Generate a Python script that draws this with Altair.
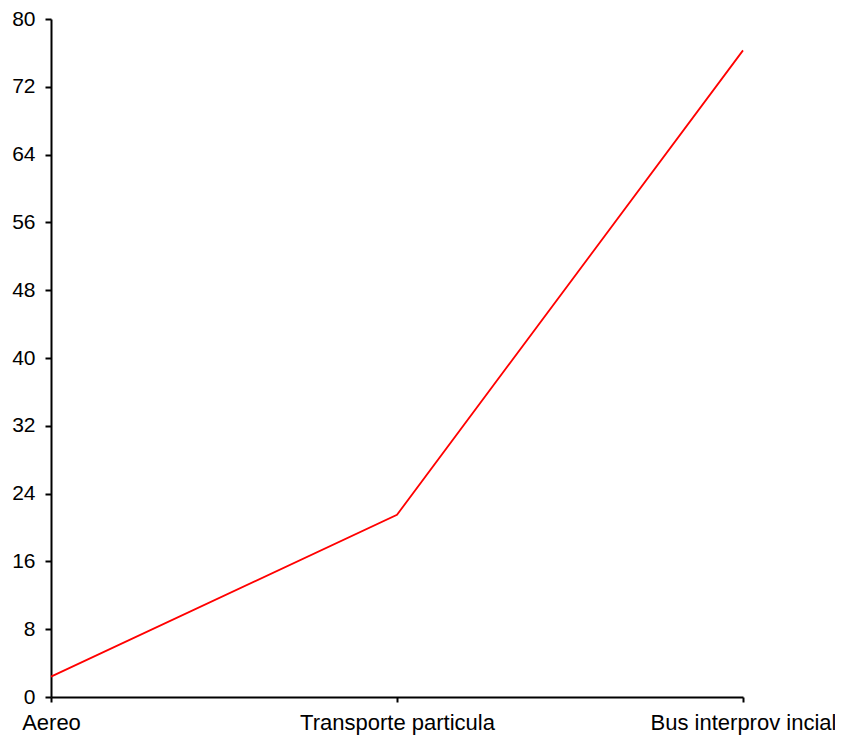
import altair as alt
import pandas as pd

categories = ["Aereo", "Transporte particula", "Bus interprov incial"]
values = [2.4, 21.5, 76.3]

df = pd.DataFrame({"cat": categories, "val": values, "order": [0, 1, 2]})

chart = alt.Chart(df).mark_line(color="#ff0000", strokeWidth=1.8).encode(
    x=alt.X("cat:N", sort=categories,
            scale=alt.Scale(type="point", padding=0),
            axis=alt.Axis(title=None, labelAngle=0, domainColor="black", domainWidth=2,
                          tickColor="black", tickWidth=2, tickSize=5,
                          labelFont="Liberation Sans", labelFontSize=22, labelColor="black",
                          labelPadding=10, labelAlign="center", labelOverlap=False,
                          labelLimit=0, grid=False)),
    y=alt.Y("val:Q", scale=alt.Scale(domain=[0, 80], nice=False, zero=True),
            axis=alt.Axis(title=None, values=list(range(0, 81, 8)), domainColor="black", domainWidth=2,
                          tickColor="black", tickWidth=2, tickSize=6,
                          labelFont="Liberation Sans", labelFontSize=21, labelColor="black",
                          labelPadding=10, grid=False)),
    order="order:Q",
).properties(
    width=692, height=678,
    autosize=alt.AutoSizeParams(type="none"),
    padding={"left": 43, "top": 11, "right": 92, "bottom": 41},
).configure_view(stroke=None)

chart.save("out.html", embed_options={"renderer": "svg", "actions": False})
